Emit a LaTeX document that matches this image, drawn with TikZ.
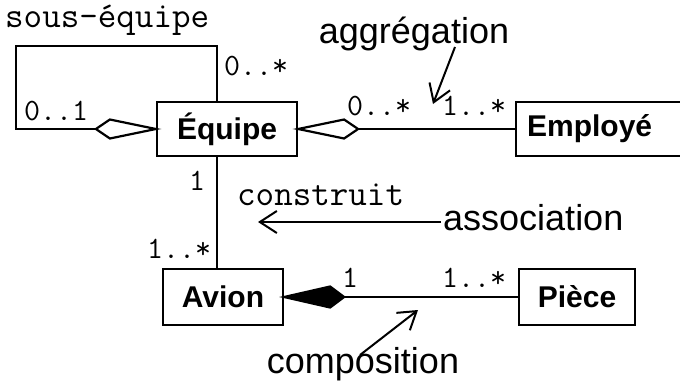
\documentclass[tikz,border=0pt]{standalone}
\usepackage{fontspec}
\setsansfont{Liberation Sans}
\usetikzlibrary{arrows.meta,calc}
\begin{document}
\begin{tikzpicture}[x=1pt,y=-1pt,
  cls/.style={draw, line width=2.2pt, inner sep=0pt,
    font=\sffamily\bfseries\fontsize{30}{30}\selectfont},
  mult/.style={inner sep=0pt, anchor=base west,
    font=\ttfamily\fontsize{31}{31}\selectfont},
  rolename/.style={inner sep=0pt, anchor=base west,
    font=\ttfamily\fontsize{36}{36}\selectfont},
  note/.style={inner sep=0pt, anchor=base,
    font=\sffamily\fontsize{36}{36}\selectfont},
  link/.style={line width=2.2pt},
  pointer/.style={line width=2pt,
    -{Straight Barb[length=17pt,width=22pt,line width=2pt]}},
  hollowdiamond/.style={line width=2.2pt, fill=white, line join=miter},
  soliddiamond/.style={line width=2.2pt, fill=black, line join=miter},
]
\useasboundingbox (0,0) rectangle (680,383);

% classes
\node[cls, minimum width=140pt, minimum height=54pt] (equipe) at (227,129) {Équipe};
\node[cls, anchor=west, minimum height=54pt, text width=146pt, align=left,
      inner xsep=11pt] (employe) at (515,129) {Employé};
\node[cls, minimum width=120pt, minimum height=56pt] (avion) at (223,297) {Avion};
\node[cls, minimum width=116pt, minimum height=56pt] (piece) at (577,297) {Pièce};

% reflexive aggregation (sous-équipe)
\coordinate (loopcorner) at (16,46);
\draw[link] ([xshift=-10pt]equipe.north) |- (loopcorner) |- ($(equipe.west)+(-60,0)$);
\draw[hollowdiamond] (equipe.west) -- ++(-46,-9.5) -- ++(-14,9.5) -- ++(14,9.5) -- cycle;
\node[rolename] (souseq) at (5,27) {sous-équipe};
\node[mult] (m01) at (24,120) {0..1};
\node[mult] (m0s) at (224,75) {0..*};

% aggregation Équipe -- Employé
\draw[link] ($(equipe.east)+(60,0)$) -- (employe.west);
\draw[hollowdiamond] (equipe.east) -- ++(46,-9.5) -- ++(14,9.5) -- ++(-14,9.5) -- cycle;
\node[mult] (m0sb) at (347,115) {0..*};
\node[mult] (m1s) at (442,115) {1..*};

% association Équipe -- Avion
\draw[link] ([xshift=-10pt]equipe.south) -- ([xshift=-6pt]avion.north);
\node[mult, anchor=base] (m1) at (197,190) {1};
\node[mult] (m1sc) at (147,258) {1..*};
\node[rolename] (constr) at (237,205) {construit};

% composition Avion -- Pièce
\draw[link] ($(avion.east)+(60,0)$) -- (piece.west);
\draw[soliddiamond] (avion.east) -- ++(46,-10.5) -- ++(14,10.5) -- ++(-14,10.5) -- cycle;
\node[mult, anchor=base] (m1d) at (350,287) {1};
\node[mult] (m1se) at (442,287) {1..*};

% annotations
\node[note] (aggr) at (414,43) {aggrégation};
\coordinate (aggrtail) at (455,47);
\coordinate (aggrtip) at (433,104);
\draw[pointer] (aggrtail) -- (aggrtip);

\node[note, anchor=base west] (assoc) at (443,230) {association};
\coordinate (assoctail) at (441,222);
\coordinate (assoctip) at (258,222);
\draw[pointer] (assoctail) -- (assoctip);

\node[note] (compo) at (363,373) {composition};
\coordinate (compotail) at (360,355);
\coordinate (compotip) at (418,310);
\draw[pointer] (compotail) -- (compotip);
\end{tikzpicture}
\end{document}
